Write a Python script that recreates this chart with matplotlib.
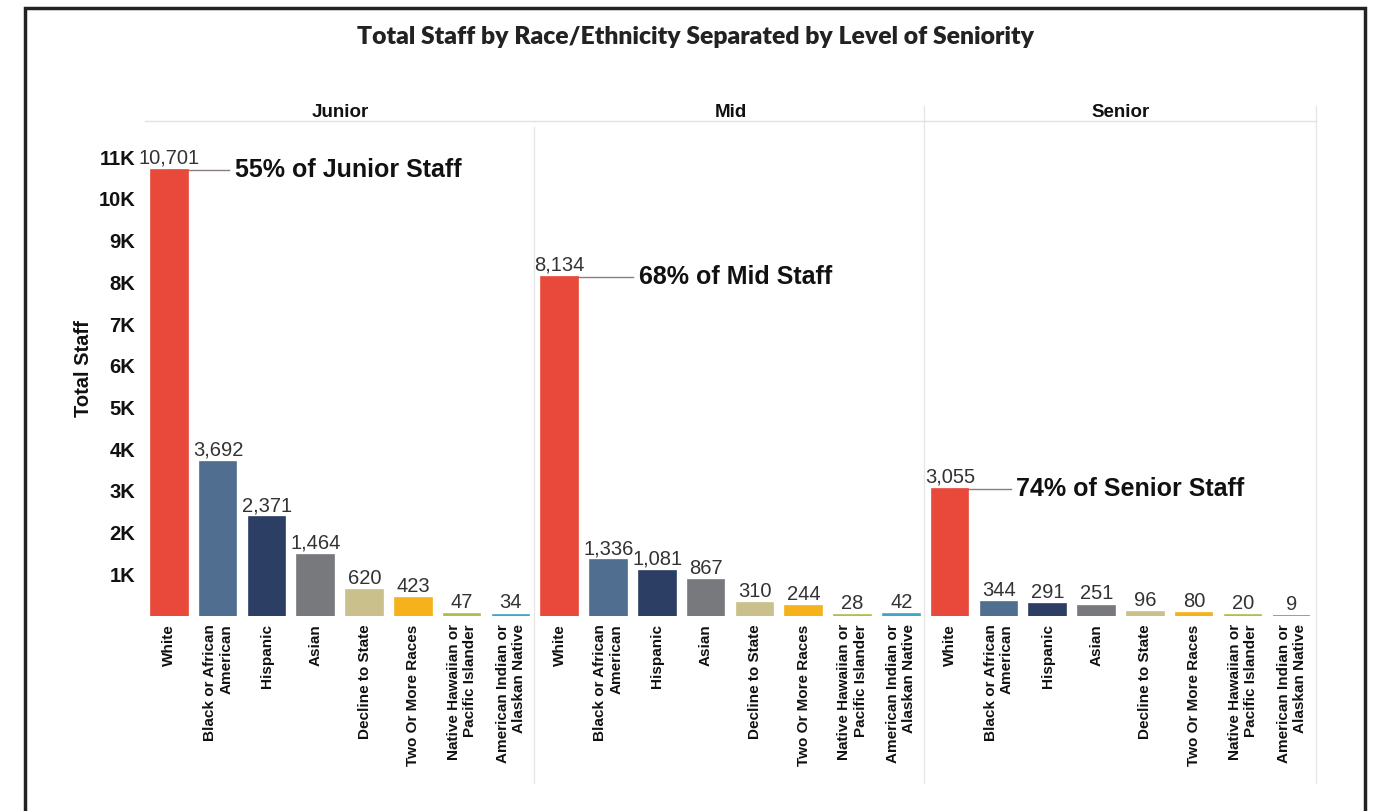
import matplotlib
matplotlib.use("Agg")
import matplotlib.pyplot as plt
from matplotlib.lines import Line2D
from matplotlib.patches import Rectangle

categories = ["White", "Black or African\nAmerican", "Hispanic", "Asian",
              "Decline to State", "Two Or More Races",
              "Native Hawaiian or\nPacific Islander",
              "American Indian or\nAlaskan Native"]
levels = ["Junior", "Mid", "Senior"]
junior = [10701, 3692, 2371, 1464, 620, 423, 47, 34]
mid = [8134, 1336, 1081, 867, 310, 244, 28, 42]
senior = [3055, 344, 291, 251, 96, 80, 20, 9]
white_pct = [55, 68, 74]
yticks = [1000, 2000, 3000, 4000, 5000, 6000, 7000, 8000, 9000, 10000, 11000]
yticklabels = ["1K", "2K", "3K", "4K", "5K", "6K", "7K", "8K", "9K", "10K", "11K"]
title = "Total Staff by Race/Ethnicity Separated by Level of Seniority"

colors = ["#E8493A", "#4F6E90", "#2C3E63", "#77797D", "#C9C08C",
          "#F5B21B", "#AFC04A", "#3CA8C5"]
# annotation text offsets (in category slots) per panel
text_off = [1.35, 1.62, 1.36]

W, H = 1373, 811
fig = plt.figure(figsize=(W / 100, H / 100), dpi=100)
fig.patch.set_facecolor("white")

FONT = "Liberation Sans"
x0, x1 = 145, 1316
y_bot, y_top = 616, 121
pw = (x1 - x0) / 3
series = [junior, mid, senior]

axes = []
for i, (lvl, vals) in enumerate(zip(levels, series)):
    ax = fig.add_axes([(x0 + i * pw) / W, (H - y_bot) / H, pw / W, (y_bot - y_top) / H])
    axes.append(ax)
    xs = list(range(len(categories)))
    ax.bar(xs, vals, width=0.75, color=colors, edgecolor=colors, linewidth=1.2, zorder=3)
    ax.set_xlim(-0.5, len(categories) - 0.5)
    ax.set_ylim(0, 11870)
    for x, v in zip(xs, vals):
        ax.annotate(f"{v:,}", (x, v), xytext=(0, 1.5), textcoords="offset points",
                    ha="center", va="bottom", fontsize=14.5, color="#333333",
                    family=FONT, zorder=5)
    # White annotation
    v = vals[0]
    t = text_off[i]
    ax.plot([0, t - 0.12], [v, v], color="#8C7C7C", lw=1, zorder=2)
    ax.text(t, v, f"{white_pct[i]}% of {lvl} Staff", ha="left", va="center",
            fontsize=18, fontweight="bold", family=FONT, color="#111111", zorder=5)
    ax.set_xticks(xs)
    ax.set_xticklabels(categories, rotation=90, fontsize=11, fontweight="bold",
                       family=FONT, ha="center", va="top", multialignment="right",
                       color="#111111")
    ax.tick_params(axis="x", length=0, pad=6)
    ax.set_yticks(yticks)
    if i == 0:
        ax.set_yticklabels(yticklabels, fontsize=14.5, fontweight="bold", family=FONT,
                           color="#111111")
        ax.tick_params(axis="y", length=0, pad=7)
    else:
        ax.tick_params(axis="y", length=0, labelleft=False)
    for s in ["left", "right", "bottom"]:
        ax.spines[s].set_visible(False)
    ax.spines["top"].set_color("#EADFDB")
    ax.spines["top"].set_linewidth(1)
    ax.set_title(lvl, fontsize=13.5, fontweight="bold", family=FONT, pad=2, color="#111111")
    ax.set_facecolor("none")

axes[0].set_ylabel("Total Staff", fontsize=14.5, fontweight="bold", family=FONT,
                   color="#111111", labelpad=4)

# panel separators
for xp, ys in [(534, 127), (924, 106), (1316, 106)]:
    fig.add_artist(Line2D([xp / W, xp / W], [(H - ys) / H, (H - 783) / H],
                          color="#E6E6E6", lw=1, transform=fig.transFigure, zorder=0))

# outer frame
fig.add_artist(Rectangle((25 / W, -0.05), (1365 - 25) / W, (H - 8) / H + 0.05,
                         fill=False, edgecolor="#222222", lw=2.5,
                         transform=fig.transFigure))

fig.text(696 / W, (H - 37) / H, title, ha="center", va="center", fontsize=17.8,
         fontweight="heavy", family="Lato", color="#222222")

fig.savefig("out.png", dpi=100)
